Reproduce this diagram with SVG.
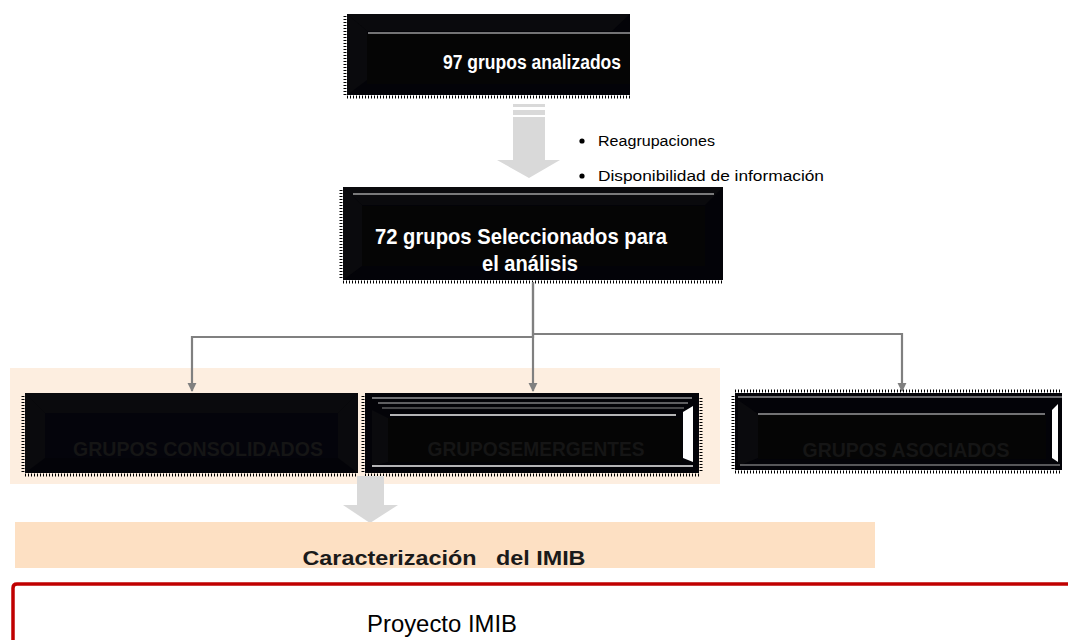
<svg xmlns="http://www.w3.org/2000/svg" width="1068" height="640" viewBox="0 0 1068 640">
<style>
.box{fill:#030308}
.bev{fill:#0a0a0d}
.inner{fill:#050505}
.rag{stroke:#000;stroke-width:3;stroke-dasharray:1 2;fill:none}
.ttl{font-family:"Liberation Sans",Arial,sans-serif;font-weight:bold;fill:#fff}
.dk{font-family:"Liberation Sans",Arial,sans-serif;font-weight:bold;fill:#151515}
.bul{font-family:"Liberation Sans",Arial,sans-serif;font-size:15.5px;fill:#000}
.conn{stroke:#808080;stroke-width:2.2;fill:none}
.big{fill:#d9d9d9}
</style>
<defs>
<marker id="ah" viewBox="0 0 10 10" refX="9" refY="5" markerWidth="4.2" markerHeight="4.2" orient="auto" markerUnits="strokeWidth">
<path d="M0,0 L10,5 L0,10 z" fill="#808080"/>
</marker>
</defs>
<rect x="0" y="0" width="1068" height="640" fill="#fff"/>

<rect id="band1" x="10" y="368" width="710" height="116" fill="#fdeee0"/>

<g id="n97">
<rect class="box" x="347" y="14" width="283" height="81"/>
<polygon class="bev" points="347,14 630,14 612,31 367,31"/>
<polygon class="bev" points="347,14 367,31 367,80 347,95"/>
<rect class="inner" x="367" y="34" width="263" height="50"/>
<line x1="368" y1="33" x2="630" y2="33" stroke="#9a9a9a" stroke-width="1.5"/>
<line class="rag" x1="345" y1="16" x2="345" y2="95"/>
<line class="rag" x1="347" y1="97" x2="630" y2="97"/>
<text class="ttl" x="532" y="69" font-size="19.5" text-anchor="middle" textLength="178" lengthAdjust="spacingAndGlyphs">97 grupos analizados</text>
</g>

<g id="arrow1">
<rect class="big" x="513" y="104" width="32" height="3"/>
<rect class="big" x="513" y="110" width="32" height="5"/>
<polygon class="big" points="513,117 545,117 545,160 560,160 529,178 497,160 513,160"/>
</g>

<g id="bullets">
<circle cx="582" cy="141" r="2.6" fill="#000"/>
<text class="bul" x="598" y="146" textLength="117" lengthAdjust="spacingAndGlyphs">Reagrupaciones</text>
<circle cx="582" cy="176" r="2.6" fill="#000"/>
<text class="bul" x="598" y="181" textLength="226" lengthAdjust="spacingAndGlyphs">Disponibilidad de información</text>
</g>

<g id="n72">
<rect class="box" x="343" y="187" width="380" height="93"/>
<polygon class="bev" points="343,187 723,187 705,205 362,205"/>
<polygon class="bev" points="343,187 362,205 362,266 343,280"/>
<rect class="inner" x="362" y="206" width="343" height="60"/>
<line x1="353" y1="194" x2="714" y2="194" stroke="#a0a0a0" stroke-width="1.5"/>
<line class="rag" x1="341" y1="190" x2="341" y2="280"/>
<line class="rag" x1="343" y1="282" x2="723" y2="282"/>
<text class="ttl" x="521" y="244" font-size="21.5" text-anchor="middle" textLength="292" lengthAdjust="spacingAndGlyphs">72 grupos Seleccionados para</text>
<text class="ttl" x="530" y="271" font-size="21.5" text-anchor="middle" textLength="96" lengthAdjust="spacingAndGlyphs">el análisis</text>
</g>

<g id="connectors">
<polyline class="conn" points="533,282 533,337 192,337 192,391" marker-end="url(#ah)"/>
<polyline class="conn" points="533,282 533,391" marker-end="url(#ah)"/>
<polyline class="conn" points="533,334 902,334 902,391" marker-end="url(#ah)"/>
</g>

<g id="nA">
<rect class="box" x="25" y="393" width="333" height="80"/>
<polygon class="bev" points="25,393 358,393 338,413 45,413" fill="#08080d"/>
<polygon class="bev" points="25,393 45,413 45,458 25,473"/>
<polygon class="bev" points="358,393 338,413 338,458 358,473"/>
<rect x="45" y="413" width="293" height="45" fill="#04040b"/>
<line class="rag" x1="23" y1="396" x2="23" y2="473"/>
<line class="rag" x1="25" y1="475" x2="358" y2="475"/>
<text class="dk" x="198" y="456" font-size="21" text-anchor="middle" textLength="250" lengthAdjust="spacingAndGlyphs">GRUPOS CONSOLIDADOS</text>
</g>

<g id="nB">
<rect class="box" x="365" y="393" width="334" height="80"/>
<line x1="372" y1="398" x2="692" y2="398" stroke="#e0e0e0" stroke-width="1.2"/>
<line x1="378" y1="403" x2="688" y2="403" stroke="#bbb" stroke-width="1"/>
<line x1="382" y1="408" x2="684" y2="408" stroke="#888" stroke-width="1.2"/>
<polygon class="bev" points="372,410 388,418 388,462 372,466"/>
<rect class="inner" x="388" y="418" width="294" height="44"/>
<line x1="390" y1="415" x2="676" y2="415" stroke="#f0f0f0" stroke-width="1.5"/>
<polygon points="683,412 693,406 693,462 683,458" fill="#fff"/>
<line x1="372" y1="466" x2="693" y2="466" stroke="#f0f0f0" stroke-width="1.5"/>
<line class="rag" x1="363" y1="396" x2="363" y2="473"/>
<line class="rag" x1="701" y1="398" x2="701" y2="473"/>
<line class="rag" x1="365" y1="475" x2="699" y2="475"/>
<text class="dk" x="536" y="456" font-size="21" text-anchor="middle" textLength="217" lengthAdjust="spacingAndGlyphs">GRUPOSEMERGENTES</text>
</g>

<g id="nC">
<rect class="box" x="735" y="393" width="327" height="77"/>
<line x1="738" y1="397" x2="1062" y2="397" stroke="#d0d0d0" stroke-width="1.2"/>
<polygon class="bev" points="738,400 758,414 758,458 738,466"/>
<rect class="inner" x="758" y="415" width="288" height="44"/>
<line x1="758" y1="414" x2="1045" y2="414" stroke="#999" stroke-width="1.5"/>
<polygon points="1052,410 1058,404 1058,462 1052,458" fill="#fff"/>
<line x1="740" y1="465" x2="1060" y2="465" stroke="#aaa" stroke-width="1.2"/>
<line class="rag" x1="733" y1="396" x2="733" y2="470"/>
<line class="rag" x1="735" y1="391" x2="1062" y2="391"/>
<line class="rag" x1="735" y1="472" x2="1062" y2="472"/>
<text class="dk" x="906" y="457" font-size="21" text-anchor="middle" textLength="207" lengthAdjust="spacingAndGlyphs">GRUPOS ASOCIADOS</text>
</g>

<g id="arrow2">
<polygon class="big" points="357,476 384,476 384,505 398,505 370,523 343,505 357,505"/>
</g>

<g id="ncar">
<rect x="15" y="522" width="860" height="46" fill="#fde0c3"/>
<text x="444" y="565" font-family="'Liberation Sans',Arial,sans-serif" font-weight="bold" font-size="21" fill="#1a1a1a" text-anchor="middle" textLength="283" lengthAdjust="spacingAndGlyphs" xml:space="preserve">Caracterización   del IMIB</text>
</g>

<g id="nproy">
<path d="M13,645 L13,588 Q13,584 17,584 L1072,584" fill="none" stroke="#c00000" stroke-width="3.5"/>
<text x="442" y="632" font-family="'Liberation Sans',Arial,sans-serif" font-size="23" fill="#000" text-anchor="middle" textLength="150" lengthAdjust="spacingAndGlyphs">Proyecto IMIB</text>
</g>
</svg>
